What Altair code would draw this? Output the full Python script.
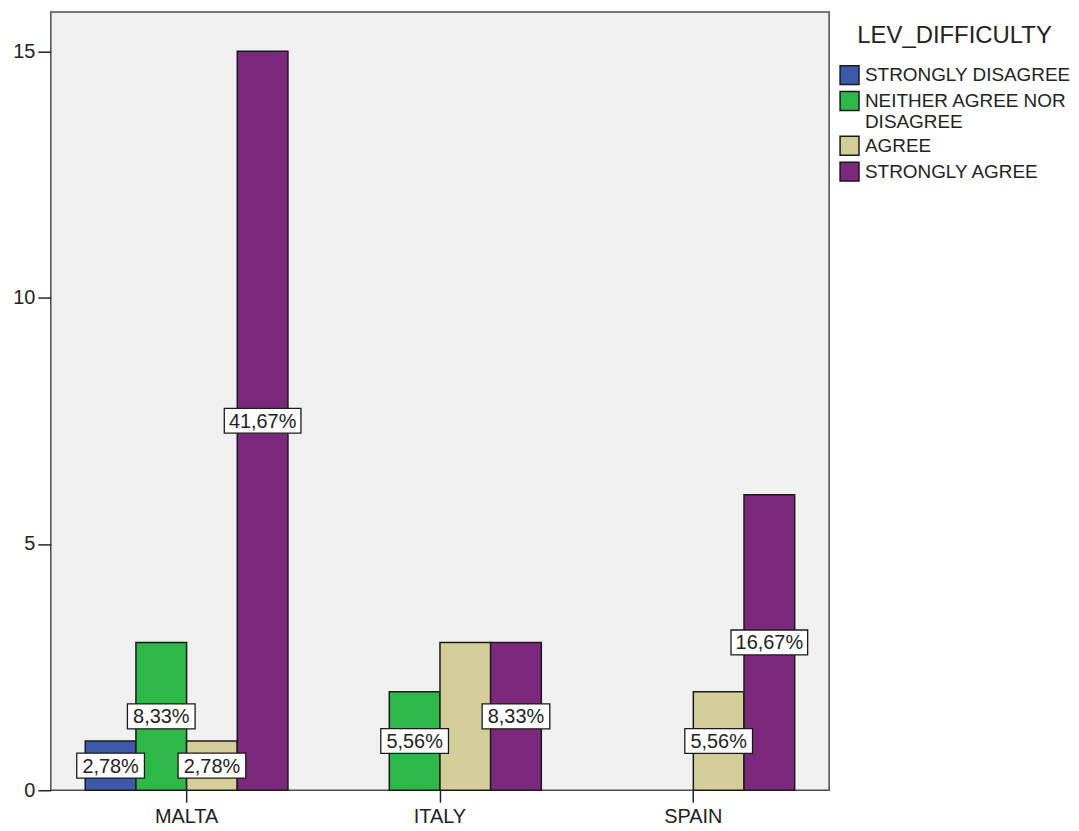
import altair as alt
import pandas as pd

countries = ["MALTA", "ITALY", "SPAIN"]
responses = ["STRONGLY DISAGREE", "NEITHER AGREE NOR DISAGREE", "AGREE", "STRONGLY AGREE"]
malta_counts = [1, 3, 1, 15]
italy_counts = [0, 2, 3, 3]
spain_counts = [0, 0, 2, 6]
malta_labels = ["2,78%", "8,33%", "2,78%", "41,67%"]
italy_labels = ["", "5,56%", "", "8,33%"]
spain_labels = ["", "", "5,56%", "16,67%"]
colors = ["#3E58AC", "#2EB848", "#D3CE97", "#7C287D"]
y_ticks = [0, 5, 10, 15]

rows = []
for c, counts, labels in zip(countries, [malta_counts, italy_counts, spain_counts],
                             [malta_labels, italy_labels, spain_labels]):
    for r, n, lab in zip(responses, counts, labels):
        rows.append({"country": c, "response": r, "count": n, "label": lab})
df = pd.DataFrame(rows)

FONT = "Liberation Sans"
INK = "#222222"

x_enc = alt.X("country:N", sort=countries,
              scale=alt.Scale(paddingInner=0.2, paddingOuter=0.136),
              axis=alt.Axis(title=None, labelAngle=0, labelFontSize=20, labelColor=INK,
                            tickSize=12, tickColor=INK, tickWidth=1.5, labelPadding=4,
                            domain=False))
xoff_enc = alt.XOffset("response:N", sort=responses,
                       scale=alt.Scale(domain=responses, paddingInner=0, paddingOuter=0))
y_scale = alt.Scale(domain=[0, 15.8], nice=False, zero=True)

bars = alt.Chart(df).transform_filter("datum.count > 0").mark_bar(
    stroke="#1a1a1a", strokeWidth=1.5
).encode(
    x=x_enc,
    xOffset=xoff_enc,
    y=alt.Y("count:Q", scale=y_scale,
            axis=alt.Axis(values=y_ticks, title=None, grid=False, labelFontSize=20,
                          labelColor=INK, tickSize=13, tickColor=INK, tickWidth=1.5,
                          labelPadding=3, domain=False)),
    color=alt.Color("response:N", sort=responses,
                    scale=alt.Scale(domain=responses, range=colors),
                    legend=alt.Legend(
                        title="LEV_DIFFICULTY",
                        orient="none", legendX=792, legendY=12,
                        titleFontSize=24, titleFontWeight="normal", titleColor=INK,
                        titlePadding=17, titleLimit=400, titleAnchor="middle",
                        labelFontSize=19, labelColor=INK, labelLimit=400, labelOffset=5,
                        symbolType="square", symbolSize=361,
                        symbolStrokeColor="#1a1a1a", symbolStrokeWidth=1.5,
                        symbolOpacity=1, rowPadding=1, padding=0,
                        labelExpr="datum.label == 'NEITHER AGREE NOR DISAGREE' ? ['NEITHER AGREE NOR', 'DISAGREE'] : datum.label",
                    )),
)

box5 = "M-34,-12.5L34,-12.5L34,12.5L-34,12.5Z"
box6 = "M-38.5,-12.5L38.5,-12.5L38.5,12.5L-38.5,12.5Z"

labelled = alt.Chart(df).transform_filter("datum.label != ''").transform_calculate(
    mid="datum.count / 2", nchar="length(datum.label)"
)

boxes = labelled.mark_point(
    filled=True, fill="white", stroke="#1a1a1a", strokeWidth=1.3, opacity=1, size=4
).encode(
    x=alt.X("country:N", sort=countries),
    xOffset=alt.XOffset("response:N", sort=responses),
    y=alt.Y("mid:Q", scale=y_scale),
    shape=alt.Shape("nchar:N", scale=alt.Scale(domain=[5, 6], range=[box5, box6]), legend=None),
)

texts = labelled.mark_text(
    font=FONT, fontSize=20, color=INK, baseline="middle", align="center", dy=1
).encode(
    x=alt.X("country:N", sort=countries),
    xOffset=alt.XOffset("response:N", sort=responses),
    y=alt.Y("mid:Q", scale=y_scale),
    text="label:N",
)

chart = alt.layer(bars, boxes, texts).properties(
    width=782, height=782,
    padding={"left": 4, "top": 2, "right": 0, "bottom": 0},
).configure(font=FONT).configure_view(
    fill="#F0F0F0", stroke="#4d4d4d", strokeWidth=1.5
)

chart.save("out.html", embed_options={"renderer": "svg", "actions": False})
